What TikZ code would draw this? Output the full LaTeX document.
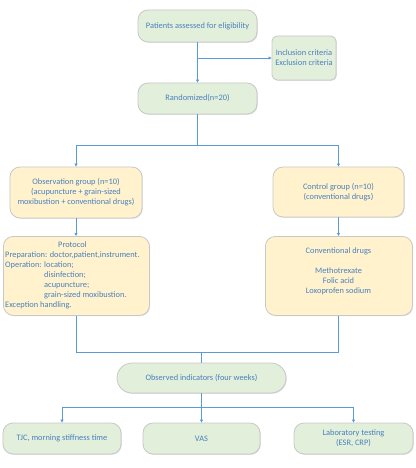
\documentclass[tikz,border=0pt]{standalone}
\usepackage{fontspec}
\setmainfont{Carlito}
\usetikzlibrary{arrows.meta,shadows}
\definecolor{gfill}{HTML}{E2EFDA}
\definecolor{yfill}{HTML}{FFF2CC}
\definecolor{bord}{HTML}{C8C8C8}
\definecolor{txt}{HTML}{4A80BE}
\definecolor{ln}{HTML}{5B9BD5}
\tikzset{
  box/.style={draw=bord, line width=0.8pt, rounded corners=10bp, inner sep=1bp,
    text=txt, align=center, font=\fontsize{8.4}{10}\selectfont,
    drop shadow={shadow xshift=0.8bp, shadow yshift=-0.8bp, opacity=0.25, fill=gray}},
  gbox/.style={box, fill=gfill},
  ybox/.style={box, fill=yfill},
  conn/.style={draw=ln, line width=0.8pt},
  arr/.style={conn, -{Triangle[length=3bp,width=3bp]}},
}
\begin{document}
\begin{tikzpicture}[x=1bp,y=-1bp]
\useasboundingbox (0,0) rectangle (415,468);
\node[gbox, minimum width=119bp, minimum height=32bp] (pat) at (197.5,26) {Patients assessed for eligibility};
\node[gbox, minimum width=64bp, minimum height=44bp, rounded corners=5bp] (inc) at (304,58) {Inclusion criteria\\Exclusion criteria};
\node[gbox, minimum width=119bp, minimum height=31bp] (ran) at (197.5,98.5) {Randomized(n=20)};
\node[ybox, minimum width=132bp, minimum height=51bp] (obs) at (76,192.5) {Observation group (n=10)\\(acupuncture + grain-sized\\moxibustion + conventional drugs)};
\node[ybox, minimum width=131bp, minimum height=50bp] (con) at (338.5,192) {Control group (n=10)\\(conventional drugs)};
\node[ybox, minimum width=146bp, minimum height=79bp, anchor=north west] (pro) at (3,236) {};
\node[text=txt, font=\fontsize{8.4}{10}\selectfont, anchor=north west, inner sep=0pt] (protxt) at (5,240.5) {%
\begin{tabular}{@{}l@{}}
\multicolumn{1}{c}{Protocol}\\
Preparation: doctor,patient,instrument.\\
Operation: location;\\
\phantom{Operation: }disinfection;\\
\phantom{Operation: }acupuncture;\\
\phantom{Operation: }grain-sized moxibustion.\\
Exception handling.
\end{tabular}};
\node[ybox, minimum width=147bp, minimum height=79bp, anchor=north west] (drg) at (265,236) {};
\node[text=txt, font=\fontsize{8.4}{10}\selectfont, align=center, anchor=north, inner sep=0pt] (drgtxt) at (338.5,247.5) {Conventional drugs\\[10bp]Methotrexate\\Folic acid\\Loxoprofen sodium};
\node[gbox, minimum width=169bp, minimum height=30bp, rounded corners=15bp] (ind) at (201.5,378) {Observed indicators (four weeks)};
\node[gbox, minimum width=118bp, minimum height=31bp] (tjc) at (62,438.5) {TJC, morning stiffness time};
\node[gbox, minimum width=117bp, minimum height=31bp] (vas) at (201.5,438.5) {VAS};
\node[gbox, minimum width=119bp, minimum height=31bp] (lab) at (353.5,438.5) {Laboratory testing\\(ESR, CRP)};
% connectors
\coordinate (br1) at (197.5,58);
\draw[arr] (pat.south) -- (ran.north);
\draw[arr] (br1) -- (inc.west);
\coordinate (sp) at (197.5,145);
\draw[conn] (ran.south) -- (sp);
\draw[arr] (sp) -| (obs.north);
\draw[arr] (sp) -| (con.north);
\draw[arr] (obs.south) -- (pro.north -| obs.south);
\draw[arr] (con.south) -- (drg.north -| con.south);
\coordinate (jn) at (201.5,352);
\draw[conn] (pro.south -| obs.south) |- (jn);
\draw[conn] (drg.south -| con.south) |- (jn);
\draw[conn] (jn) -- (ind.north);
\coordinate (sp2) at (201.5,407);
\draw[conn] (ind.south) -- (sp2);
\draw[arr] (sp2) -| (tjc.north);
\draw[arr] (sp2) -| (lab.north);
\draw[arr] (sp2) -- (vas.north);
\end{tikzpicture}
\end{document}
